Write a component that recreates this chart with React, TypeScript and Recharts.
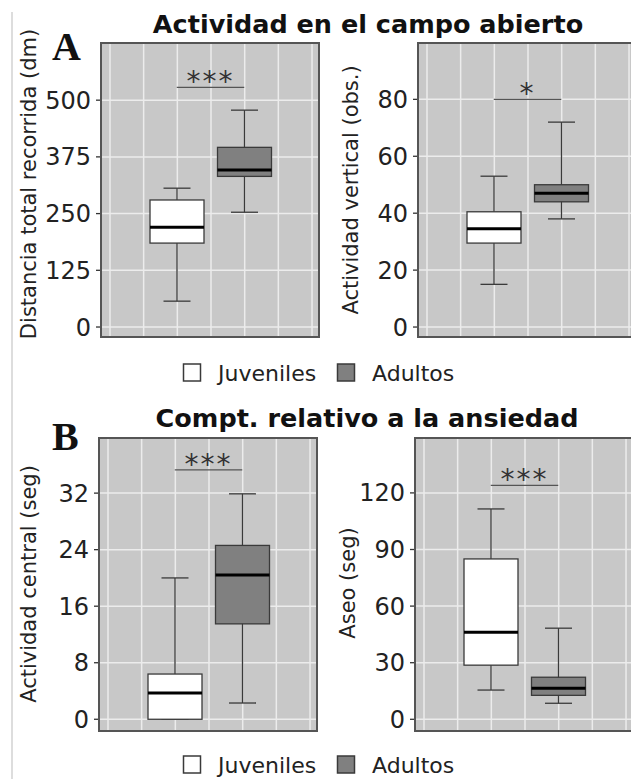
import React from "react";
import {
  ComposedChart,
  Bar,
  XAxis,
  YAxis,
  CartesianGrid,
  ReferenceLine,
} from "recharts";

// ─── Data ─────────────────────────────────────────────────────────────────────
const groups = ["Juveniles", "Adultos"];

// A: distancia total recorrida (dm)
const distMin = [57, 253];
const distQ1 = [185, 332];
const distMed = [220, 346];
const distQ3 = [280, 396];
const distMax = [306, 478];
const distTicks = [0, 125, 250, 375, 500];

// A: actividad vertical (obs.)
const vertMin = [15, 38];
const vertQ1 = [29.5, 44];
const vertMed = [34.5, 47];
const vertQ3 = [40.5, 50];
const vertMax = [53, 72];
const vertTicks = [0, 20, 40, 60, 80];

// B: actividad central (seg)
const centMin = [0, 2.3];
const centQ1 = [0, 13.5];
const centMed = [3.7, 20.4];
const centQ3 = [6.4, 24.6];
const centMax = [20, 31.9];
const centTicks = [0, 8, 16, 24, 32];

// B: aseo (seg)
const aseoMin = [15.5, 8.5];
const aseoQ1 = [28.7, 12.7];
const aseoMed = [46.2, 16.5];
const aseoQ3 = [85, 22.3];
const aseoMax = [111.5, 48.3];
const aseoTicks = [0, 30, 60, 90, 120];

// significance brackets (distancia, vertical, central, aseo)
const sigLevels = [528, 80, 35.3, 124];
const sigLabels = ["***", "*", "***", "***"];

// ─── Styling ──────────────────────────────────────────────────────────────────
const FILLS = ["#ffffff", "#808080"];
const INK = "#3a3a3a";
const PANEL = "#c8c8c8";
const GRID = "#ececec";
const FONT = "'DejaVu Sans', sans-serif";
const Y_W = 75;
const PW = 218;
// vertical grid: 7 evenly spaced lines, first one 9px in from the panel edge
const V_LINES = [0, 1, 2, 3, 4, 5, 6];
const V_START = 0.267;
const V_SPAN = 6.474;

const table = (mn: number[], q1: number[], md: number[], q3: number[], mx: number[]) =>
  groups.map((g, i) => ({ group: g, min: mn[i], q1: q1[i], med: md[i], q3: q3[i], max: mx[i] }));

const panels = [
  { data: table(distMin, distQ1, distMed, distQ3, distMax), ticks: distTicks, domain: [-22, 626], sig: 0, left: 101, top: 43, h: 294 },
  { data: table(vertMin, vertQ1, vertMed, vertQ3, vertMax), ticks: vertTicks, domain: [-3.5, 99.8], sig: 1, left: 418, top: 43, h: 294 },
  { data: table(centMin, centQ1, centMed, centQ3, centMax), ticks: centTicks, domain: [-1.66, 39.8], sig: 2, left: 99, top: 438, h: 293 },
  { data: table(aseoMin, aseoQ1, aseoMed, aseoQ3, aseoMax), ticks: aseoTicks, domain: [-6.2, 149.1], sig: 3, left: 415, top: 438, h: 293 },
];

// ─── Box shape (range bar min..max) ───────────────────────────────────────────
function BoxShape(props: any) {
  const { x, y, width, height, payload, index } = props;
  if (!payload) return null;
  const top = Math.min(y, y + height);
  const bot = Math.max(y, y + height);
  const span = payload.max - payload.min;
  const ppu = span ? (bot - top) / span : 0;
  const yOf = (v: number) => bot - (v - payload.min) * ppu;
  const cx = x + width / 2;
  const cap = width / 4;
  return (
    <g>
      <line x1={cx} x2={cx} y1={top} y2={bot} stroke={INK} strokeWidth={1.3} />
      <line x1={cx - cap} x2={cx + cap} y1={top} y2={top} stroke={INK} strokeWidth={1.3} />
      <line x1={cx - cap} x2={cx + cap} y1={bot} y2={bot} stroke={INK} strokeWidth={1.3} />
      <rect
        x={x}
        y={yOf(payload.q3)}
        width={width}
        height={yOf(payload.q1) - yOf(payload.q3)}
        fill={FILLS[index % FILLS.length]}
        stroke={INK}
        strokeWidth={1.3}
      />
      <line x1={x} x2={x + width} y1={yOf(payload.med)} y2={yOf(payload.med)} stroke="#000" strokeWidth={3} />
    </g>
  );
}

const verticalGrid = ({ offset }: any) =>
  V_LINES.map((t) => offset.left + ((t + V_START) / V_SPAN) * offset.width);

function BoxPanel({ p }: { p: (typeof panels)[number] }) {
  return (
    <div style={{ position: "absolute", left: p.left - Y_W, top: p.top - 10 }}>
      <ComposedChart width={Y_W + PW} height={p.h + 20} data={p.data} margin={{ top: 10, right: 0, bottom: 10, left: 0 }}>
        <XAxis xAxisId="cat" dataKey="group" type="category" hide padding={{ left: 42, right: 41 }} />
        <YAxis
          yAxisId="y"
          type="number"
          width={Y_W}
          domain={p.domain}
          ticks={p.ticks}
          interval={0}
          allowDataOverflow
          axisLine={false}
          tickLine={{ stroke: "#333", strokeWidth: 1.3 }}
          tickSize={5}
          tickMargin={5}
          tick={{ fontSize: 24, fill: "#222", fontFamily: FONT }}
        />
        <CartesianGrid
          xAxisId="cat"
          yAxisId="y"
          fill={PANEL}
          stroke={GRID}
          strokeWidth={1.5}
          verticalCoordinatesGenerator={verticalGrid}
        />
        <ReferenceLine
          xAxisId="cat"
          yAxisId="y"
          segment={[
            { x: groups[0], y: sigLevels[p.sig] },
            { x: groups[1], y: sigLevels[p.sig] },
          ]}
          stroke="#555"
          strokeWidth={1.3}
          label={{
            value: sigLabels[p.sig],
            position: "top",
            offset: -4,
            fontSize: 28,
            letterSpacing: 2,
            fill: "#333",
            fontFamily: FONT,
          }}
        />
        <Bar
          xAxisId="cat"
          yAxisId="y"
          dataKey={(d: any) => [d.min, d.max]}
          barSize={54}
          shape={BoxShape}
          isAnimationActive={false}
        />
      </ComposedChart>
    </div>
  );
}

function Legend({ y }: { y: number }) {
  return (
    <g fontFamily={FONT} fontSize={22} fill="#222">
      <rect x={183.5} y={y} width={17} height={17} fill={FILLS[0]} stroke={INK} strokeWidth={1.5} />
      <text x={218} y={y + 17}>{groups[0]}</text>
      <rect x={337.5} y={y} width={17} height={17} fill={FILLS[1]} stroke={INK} strokeWidth={1.5} />
      <text x={372} y={y + 17}>{groups[1]}</text>
    </g>
  );
}

export default function App() {
  return (
    <div
      style={{
        position: "absolute",
        left: 0,
        top: 0,
        width: 631,
        height: 779,
        overflow: "hidden",
        background: "#fff",
      }}
    >
      {panels.map((p, i) => (
        <BoxPanel key={i} p={p} />
      ))}
      <svg width={631} height={779} style={{ position: "absolute", left: 0, top: 0, pointerEvents: "none" }}>
        <line x1={12} x2={12} y1={12} y2={779} stroke="#bbb" strokeWidth={1} />
        {panels.map((p, i) => (
          <rect key={i} x={p.left} y={p.top} width={PW} height={p.h} fill="none" stroke="#555" strokeWidth={2} />
        ))}
        <g fontFamily={FONT} fontWeight="bold" fontSize={25.5} fill="#111" textAnchor="middle">
          <text x={368} y={33}>Actividad en el campo abierto</text>
          <text x={367} y={427}>Compt. relativo a la ansiedad</text>
        </g>
        <g fontFamily="'Liberation Serif', serif" fontWeight="bold" fontSize={40} fill="#111">
          <text x={52} y={60}>A</text>
          <text x={52} y={450}>B</text>
        </g>
        <g fontFamily={FONT} fontSize={21} fill="#222" textAnchor="middle">
          <text transform="translate(36,184) rotate(-90)">Distancia total recorrida (dm)</text>
          <text transform="translate(358,190) rotate(-90)">Actividad vertical (obs.)</text>
          <text transform="translate(36,584) rotate(-90)">Actividad central (seg)</text>
          <text transform="translate(355,583) rotate(-90)">Aseo (seg)</text>
        </g>
        <Legend y={364} />
        <Legend y={756} />
      </svg>
    </div>
  );
}
